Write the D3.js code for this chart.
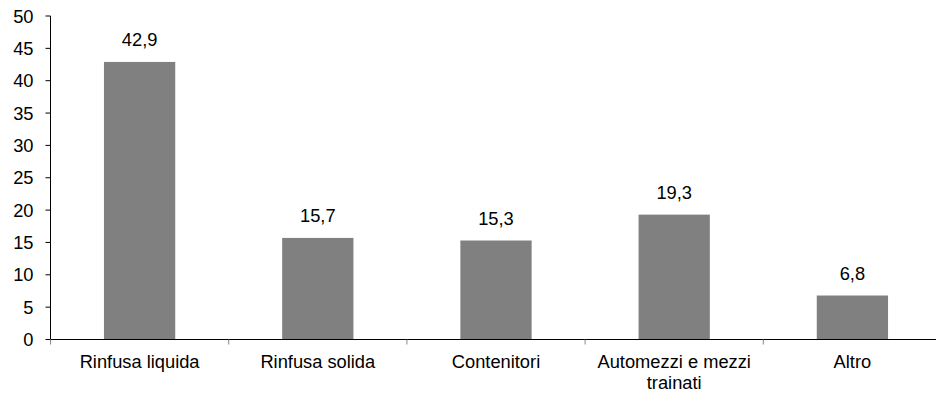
<!DOCTYPE html>
<html><head><meta charset="utf-8">
<script src="https://cdn.jsdelivr.net/npm/d3@7/dist/d3.min.js"></script>
<style>body{margin:0;background:#fff}svg{display:block}text{font-family:"Liberation Sans",Arial,sans-serif}</style>
</head><body><svg id="c" width="936" height="393"></svg>
<script>
const categories = ["Rinfusa liquida", "Rinfusa solida", "Contenitori", "Automezzi e mezzi|trainati", "Altro"];
const values = [42.9, 15.7, 15.3, 19.3, 6.8];
const labels = ["42,9", "15,7", "15,3", "19,3", "6,8"];
const yTicks = [0, 5, 10, 15, 20, 25, 30, 35, 40, 45, 50];

(function () {
const svg = d3.select("#c");
const fs = 18.3;
const mLeft = 50.5, mTop = 16, mBottom = 339.5, step = 178.2;
const x = d3.scaleBand().domain(categories).range([mLeft, mLeft + step * categories.length]).paddingInner(0.6).paddingOuter(0.3);
const y = d3.scaleLinear().domain([0, 50]).range([mBottom, mTop]);

svg.selectAll("rect.bar").data(values).join("rect").attr("class", "bar")
  .attr("x", (d, i) => x(categories[i])).attr("width", x.bandwidth())
  .attr("y", d => y(d)).attr("height", d => y(0) - y(d)).attr("fill", "#808080");

svg.selectAll("text.val").data(values).join("text").attr("class", "val")
  .attr("x", (d, i) => x(categories[i]) + x.bandwidth() / 2).attr("y", d => y(d) - 16)
  .attr("text-anchor", "middle").attr("font-size", fs).attr("fill", "#000").text((d, i) => labels[i]);

// y axis
const ya = svg.append("g");
ya.append("line").attr("x1", mLeft).attr("x2", mLeft).attr("y1", y(50)).attr("y2", y(0)).attr("stroke", "#000");
ya.selectAll("line.t").data(yTicks).join("line").attr("class", "t")
  .attr("x1", mLeft - 5).attr("x2", mLeft).attr("y1", d => y(d)).attr("y2", d => y(d)).attr("stroke", "#000");
ya.selectAll("text").data(yTicks).join("text").attr("x", 33.5).attr("y", d => y(d) + 6.5)
  .attr("text-anchor", "end").attr("font-size", fs).attr("fill", "#000").text(d => d);

// x axis
const xa = svg.append("g");
xa.append("line").attr("x1", mLeft).attr("x2", 936).attr("y1", mBottom).attr("y2", mBottom).attr("stroke", "#000");
const bounds = d3.range(categories.length + 1).map(i => mLeft + step * i);
xa.selectAll("line.t").data(bounds).join("line").attr("class", "t")
  .attr("x1", d => d).attr("x2", d => d).attr("y1", mBottom).attr("y2", mBottom + 5).attr("stroke", "#888");
const xl = xa.selectAll("text").data(categories).join("text")
  .attr("text-anchor", "middle").attr("font-size", fs).attr("fill", "#000");
xl.each(function(d) {
  const t = d3.select(this);
  const cx = x(d) + x.bandwidth() / 2;
  d.split("|").forEach((s, j) => t.append("tspan").attr("x", cx).attr("y", 368 + j * 21).text(s));
});
})();
</script></body></html>
